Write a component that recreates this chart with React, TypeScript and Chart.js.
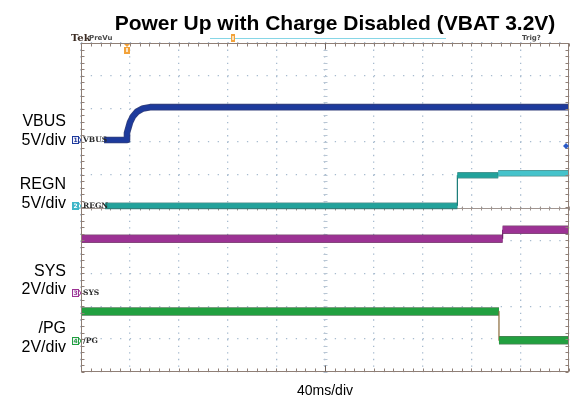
import React, { useEffect, useRef } from 'react';
import { Chart, registerables } from 'chart.js';

Chart.register(...registerables);

// ---------------- data (time in ms, values in volts) ----------------
const X_MIN_MS = 0;
const X_MAX_MS = 400;
const MS_PER_DIV = 40;
const Y_DIVS = 10;

const VBUS_T = [18.9, 36.9, 37.7, 40.2, 42.6, 45.9, 50.8, 56.6, 400];
const VBUS_V = [0, 0, 1.1, 2.7, 3.6, 4.3, 4.8, 5.0, 5.0];

const REGN_T = [19.7, 308.5, 308.5, 342.0, 342.0, 400];
const REGN_V = [0, 0, 4.65, 4.65, 4.95, 4.95];

const SYS_T = [0, 345.6, 345.6, 400];
const SYS_V = [3.3, 3.3, 3.85, 3.85];

const PG_T = [0, 342.6, 342.6, 400];
const PG_V = [1.8, 1.8, 0.05, 0.05];

const CH_NAMES = ['VBUS', 'REGN', 'SYS', '/PG'];
const CH_SCALES = ['5V/div', '5V/div', '2V/div', '2V/div'];
const CH_VOLTS_PER_DIV = [5, 5, 2, 2];

// ---------------- styling / layout ----------------
const CH_GROUND_DIV = [7.05, 5.05, 2.4, 0.94];
const CH_COLORS = ['#1d3a9c', '#22a29b', '#9c3294', '#22a040'];
const CH_UNDER = ['rgba(16,30,100,0.85)', 'rgba(14,100,96,0.7)', 'rgba(80,20,70,0.75)', 'rgba(20,80,30,0.75)'];
const CH_EDGE = ['#142a7a', '#167a76', '#6e1f68', '#8a6a3a'];
const CH_WIDTH = [5, 5, 7, 7];

const series = [
  { t: VBUS_T, v: VBUS_V },
  { t: REGN_T, v: REGN_V },
  { t: SYS_T, v: SYS_V },
  { t: PG_T, v: PG_V },
];

const FRAME = '#8f7f76';

const scopePlugin = {
  id: 'scope',
  beforeDatasetsDraw(chart: any) {
    const { ctx, chartArea: a } = chart;
    const xs = chart.scales.x;
    const ys = chart.scales.y;
    ctx.save();
    const cy = Math.round(ys.getPixelForValue(Y_DIVS / 2)) + 0.5;
    ctx.strokeStyle = '#a09590';
    ctx.lineWidth = 1;
    ctx.beginPath();
    ctx.moveTo(a.left, cy);
    ctx.lineTo(a.right, cy);
    const dx = (xs.getPixelForValue(MS_PER_DIV) - xs.getPixelForValue(0)) / 5;
    for (let x = a.left; x <= a.right + 0.5; x += dx) {
      ctx.moveTo(Math.round(x) + 0.5, cy - 2);
      ctx.lineTo(Math.round(x) + 0.5, cy + 2);
    }
    ctx.stroke();
    const cx = Math.round(xs.getPixelForValue((X_MIN_MS + X_MAX_MS) / 2)) + 0.5;
    const dy = (ys.getPixelForValue(0) - ys.getPixelForValue(1)) / 5;
    ctx.strokeStyle = '#b8c6d4';
    ctx.beginPath();
    for (let y = a.top; y <= a.bottom + 0.5; y += dy) {
      ctx.moveTo(cx - 2, Math.round(y) + 0.5);
      ctx.lineTo(cx + 2, Math.round(y) + 0.5);
    }
    ctx.stroke();
    ctx.restore();
  },
  afterDatasetsDraw(chart: any) {
    const { ctx, chartArea: a } = chart;
    const xs = chart.scales.x;
    const ys = chart.scales.y;
    ctx.save();
    ctx.strokeStyle = FRAME;
    ctx.lineWidth = 1;
    const L = Math.round(a.left) + 0.5, R = Math.round(a.right) - 0.5;
    const T = Math.round(a.top) + 0.5, B = Math.round(a.bottom) - 0.5;
    ctx.strokeRect(L, T, R - L, B - T);
    const dx = (xs.getPixelForValue(MS_PER_DIV) - xs.getPixelForValue(0)) / 5;
    const dy = (ys.getPixelForValue(0) - ys.getPixelForValue(1)) / 5;
    ctx.beginPath();
    for (let x = a.left; x <= a.right + 0.5; x += dx) {
      const px = Math.round(x) + 0.5;
      ctx.moveTo(px, T); ctx.lineTo(px, T + 3);
      ctx.moveTo(px, B); ctx.lineTo(px, B - 3);
    }
    for (let y = a.top; y <= a.bottom + 0.5; y += dy) {
      const py = Math.round(y) + 0.5;
      ctx.moveTo(L, py); ctx.lineTo(L + 3, py);
      ctx.moveTo(R, py); ctx.lineTo(R - 3, py);
    }
    ctx.stroke();
    const cx = Math.round(xs.getPixelForValue((X_MIN_MS + X_MAX_MS) / 2)) + 0.5;
    ctx.strokeStyle = '#6f625c';
    ctx.beginPath();
    ctx.moveTo(cx, T); ctx.lineTo(cx, T + 6);
    ctx.moveTo(cx, B); ctx.lineTo(cx, B - 6);
    ctx.stroke();

    // top status bar
    ctx.fillStyle = '#3b2b22';
    ctx.font = 'bold 10px "DejaVu Serif", serif';
    ctx.textBaseline = 'alphabetic';
    ctx.textAlign = 'left';
    ctx.fillText('Tek', 71, 41);
    ctx.font = 'bold 7px "DejaVu Sans", sans-serif';
    ctx.fillStyle = '#4a4a4a';
    ctx.fillText('PreVu', 89, 40);
    ctx.fillText('Trig?', 522, 40);
    ctx.strokeStyle = '#86d6e6';
    ctx.lineWidth = 1.2;
    ctx.beginPath();
    ctx.moveTo(210, 38.5); ctx.lineTo(446, 38.5);
    ctx.stroke();
    ctx.fillStyle = '#f2a23a';
    ctx.fillRect(231, 34, 4, 8);
    ctx.fillStyle = '#fbe0b8';
    ctx.fillRect(232, 36, 2, 4);
    const tx = Math.round(xs.getPixelForValue(36.9)) + 1;
    ctx.fillStyle = '#f2a23a';
    ctx.beginPath();
    ctx.moveTo(tx - 3, 44); ctx.lineTo(tx + 3, 44); ctx.lineTo(tx, 47); ctx.closePath();
    ctx.fill();
    ctx.fillRect(tx - 3, 47, 6, 7);
    ctx.fillStyle = '#fde6c6';
    ctx.fillRect(tx - 1, 48, 2, 4);

    // channel labels
    CH_NAMES.forEach((name, i) => {
      const sc = chart.scales['y' + i];
      const gy = Math.round(sc.getPixelForValue(0));
      const col = CH_COLORS[i];
      ctx.fillStyle = i === 1 ? '#3fb6c8' : '#f4f1fa';
      ctx.fillRect(72, gy - 4, 6, 8);
      ctx.strokeStyle = i === 1 ? '#3fb6c8' : col;
      ctx.lineWidth = 1;
      ctx.strokeRect(72.5, gy - 3.5, 6, 7);
      ctx.beginPath();
      ctx.moveTo(78.5, gy - 3.5); ctx.lineTo(81, gy); ctx.lineTo(78.5, gy + 3.5);
      ctx.stroke();
      ctx.fillStyle = i === 1 ? '#ffffff' : col;
      ctx.font = 'bold 6px "DejaVu Sans", sans-serif';
      ctx.textAlign = 'center';
      ctx.textBaseline = 'middle';
      ctx.fillText(String(i + 1), 75.5, gy + 0.5);
      ctx.fillStyle = '#2a2a2a';
      ctx.font = 'bold 7.5px "DejaVu Serif", serif';
      ctx.textAlign = 'left';
      ctx.fillText(name, 83, gy + 0.5);
    });

    ctx.fillStyle = '#2a5ac8';
    ctx.beginPath();
    ctx.moveTo(563, 146); ctx.lineTo(566, 143); ctx.lineTo(569, 146); ctx.lineTo(566, 149); ctx.closePath();
    ctx.fill();
    ctx.restore();
  },
};

export default function App() {
  const canvasRef = useRef<HTMLCanvasElement | null>(null);

  useEffect(() => {
    const prevMargin = document.body.style.margin;
    document.body.style.margin = '0';
    const canvas = canvasRef.current!;
    const makeSet = (s: { t: number[]; v: number[] }, i: number, under: boolean) => {
      const w = CH_WIDTH[i] + (under ? 1.6 : 0);
      return {
        label: CH_NAMES[i] + (under ? ' edge' : ''),
        data: s.t.map((t, k) => ({ x: t, y: s.v[k] })),
        yAxisID: 'y' + i,
        borderColor: under ? CH_UNDER[i] : CH_COLORS[i],
        borderWidth: w,
        borderCapStyle: 'butt',
        borderJoinStyle: 'round',
        pointRadius: 0,
        tension: 0,
        fill: false,
        order: under ? 2 : 1,
        segment: {
          borderWidth: (c: any) => (c.p0.parsed.x === c.p1.parsed.x ? (under ? 0.01 : 1.2) : w),
          borderColor: (c: any) => {
            if (under) return c.p0.parsed.x === c.p1.parsed.x ? 'rgba(0,0,0,0)' : CH_UNDER[i];
            if (c.p0.parsed.x === c.p1.parsed.x) return CH_EDGE[i];
            if (i === 1 && c.p0.parsed.x >= 342) return '#45c3cb';
            return CH_COLORS[i];
          },
        },
      };
    };
    const datasets: any[] = [
      ...series.map((s, i) => makeSet(s, i, true)),
      ...series.map((s, i) => makeSet(s, i, false)),
    ];

    const scales: any = {
      x: {
        type: 'linear',
        min: X_MIN_MS,
        max: X_MAX_MS,
        ticks: { display: false, stepSize: MS_PER_DIV },
        grid: { color: '#a7bbcf', lineWidth: 1.3, drawTicks: false },
        border: { display: false, dash: [1.3, 5.28] },
      },
      y: {
        type: 'linear',
        min: 0,
        max: Y_DIVS,
        ticks: { display: false, stepSize: 1 },
        grid: { color: '#a7bbcf', lineWidth: 1.3, drawTicks: false },
        border: { display: false, dash: [1.3, 8.46] },
      },
    };
    CH_NAMES.forEach((_, i) => {
      const vpd = CH_VOLTS_PER_DIV[i];
      scales['y' + i] = {
        type: 'linear',
        display: false,
        min: -CH_GROUND_DIV[i] * vpd,
        max: (Y_DIVS - CH_GROUND_DIV[i]) * vpd,
      };
    });

    const chart = new Chart(canvas, {
      type: 'line',
      data: { datasets },
      options: {
        responsive: false,
        maintainAspectRatio: false,
        devicePixelRatio: 1,
        animation: false,
        layout: { padding: { left: 81, right: 4, top: 43, bottom: 28 } },
        plugins: { legend: { display: false }, tooltip: { enabled: false }, title: { display: false } },
        scales,
      },
      plugins: [scopePlugin],
    });
    return () => {
      chart.destroy();
      document.body.style.margin = prevMargin;
    };
  }, []);

  const labelStyle: React.CSSProperties = {
    position: 'absolute',
    right: 573 - 66,
    fontSize: 16,
    lineHeight: '16px',
    whiteSpace: 'nowrap',
    color: '#000',
  };
  const labelTops = [[113, 132], [176, 195], [263, 281], [320, 339]];

  return (
    <div
      style={{
        position: 'absolute',
        left: 0,
        top: 0,
        width: 573,
        height: 400,
        background: '#ffffff',
        overflow: 'hidden',
        fontFamily: '"Liberation Sans", Arial, sans-serif',
      }}
    >
      <canvas ref={canvasRef} width={573} height={400} style={{ position: 'absolute', left: 0, top: 0 }} />
      <div
        style={{
          position: 'absolute',
          left: 85,
          width: 500,
          top: 12,
          textAlign: 'center',
          fontSize: 21,
          lineHeight: '21px',
          fontWeight: 'bold',
          whiteSpace: 'nowrap',
          color: '#000',
        }}
      >
        Power Up with Charge Disabled (VBAT 3.2V)
      </div>
      {CH_NAMES.map((n, i) => (
        <React.Fragment key={n}>
          <div style={{ ...labelStyle, top: labelTops[i][0] }}>{n}</div>
          <div style={{ ...labelStyle, top: labelTops[i][1] }}>{CH_SCALES[i]}</div>
        </React.Fragment>
      ))}
      <div
        style={{
          position: 'absolute',
          left: 225,
          width: 200,
          top: 383,
          textAlign: 'center',
          fontSize: 14,
          lineHeight: '14px',
          color: '#000',
        }}
      >
        {MS_PER_DIV}ms/div
      </div>
    </div>
  );
}
